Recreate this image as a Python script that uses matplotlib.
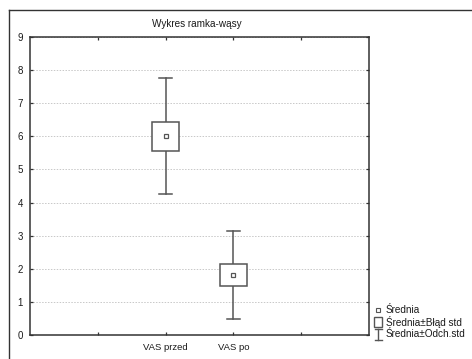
import matplotlib
matplotlib.use("Agg")
import matplotlib.pyplot as plt
from matplotlib.patches import Rectangle
from matplotlib.lines import Line2D

categories = ["VAS przed", "VAS po"]
positions = [2, 3]
means = [6.0, 1.81]
std_err = [0.43, 0.33]
std_dev = [1.75, 1.32]
title = "Wykres ramka-wąsy"
legend_labels = ["Średnia", "Średnia±Błąd std", "Średnia±Odch.std"]

W, H = 472, 359
plt.rcParams['font.family'] = ['Liberation Sans', 'DejaVu Sans']
fig = plt.figure(figsize=(W / 100, H / 100), dpi=100)
fig.patch.set_facecolor("white")

def fx(px):
    return px / W

def fy(py):
    return 1 - py / H

ax = fig.add_axes([fx(30), fy(335), fx(369) - fx(30), fy(37) - fy(335)])
ax.set_xlim(0, 5)
ax.set_ylim(0, 9)

edge = "#555555"
box_w = 0.41
cap_w = 0.19
for x, m, se, sd in zip(positions, means, std_err, std_dev):
    ax.plot([x, x], [m - sd, m - se], color=edge, lw=1.1, zorder=3)
    ax.plot([x, x], [m + se, m + sd], color=edge, lw=1.1, zorder=3)
    ax.plot([x - cap_w / 2, x + cap_w / 2], [m + sd, m + sd], color=edge, lw=1.1, zorder=3)
    ax.plot([x - cap_w / 2, x + cap_w / 2], [m - sd, m - sd], color=edge, lw=1.1, zorder=3)
    ax.add_patch(Rectangle((x - box_w / 2, m - se), box_w, 2 * se, facecolor="white",
                           edgecolor=edge, lw=1.1, zorder=4))
    ax.plot([x], [m], marker="s", ms=3.4, mfc="white", mec=edge, mew=0.9, zorder=5)

ax.set_yticks(range(0, 10))
ax.set_xticks([1, 2, 3, 4])
ax.set_xticklabels(["", categories[0], categories[1], ""])
ax.yaxis.grid(True, linestyle=(0, (1.5, 1.5)), color="#c8c8c8", lw=0.7)
ax.set_axisbelow(True)
ax.tick_params(direction="in", length=2.5, width=0.9, color="#333333",
               labelsize=7, pad=5, top=True, right=True, labelcolor="#1a1a1a")
ax.tick_params(axis="x", labelsize=6.8, pad=6)
for s in ax.spines.values():
    s.set_color("#333333")
    s.set_linewidth(1.1)

fig.text(fx(197), fy(24), title, ha="center", va="center", fontsize=7.2, color="#1a1a1a")

# outer frame (left and top edges visible)
fig.add_artist(Line2D([fx(8.5), fx(8.5)], [fy(10), 0], color="#333333", lw=1.0))
fig.add_artist(Line2D([fx(8.5), 1], [fy(10), fy(10)], color="#333333", lw=1.0))

# legend
lx = 378
rows = [310, 322, 334]
tf = fig.transFigure
fig.add_artist(Rectangle((fx(lx - 2), fy(rows[0] + 2)), 4 / W, 4 / H, transform=tf,
                         facecolor="white", edgecolor=edge, lw=0.8))
fig.add_artist(Rectangle((fx(lx - 4), fy(rows[1] + 5)), 8 / W, 10 / H, transform=tf,
                         facecolor="white", edgecolor=edge, lw=1.0))
fig.add_artist(Line2D([fx(lx), fx(lx)], [fy(rows[2] - 5), fy(rows[2] + 6)], color=edge, lw=1.0))
fig.add_artist(Line2D([fx(lx - 3.5), fx(lx + 3.5)], [fy(rows[2] - 5)] * 2, color=edge, lw=1.0))
fig.add_artist(Line2D([fx(lx - 3.5), fx(lx + 3.5)], [fy(rows[2] + 6)] * 2, color=edge, lw=1.0))
for r, lab in zip(rows, legend_labels):
    fig.text(fx(386), fy(r), lab, ha="left", va="center", fontsize=7.2, color="#1a1a1a")

fig.savefig("out.png", dpi=100, facecolor="white")
